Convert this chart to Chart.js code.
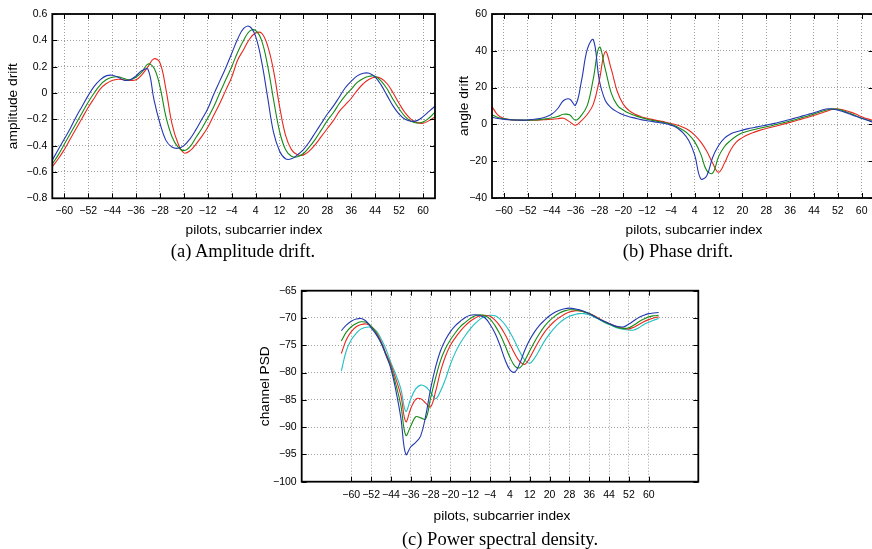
<!DOCTYPE html>
<html>
<head>
<meta charset="utf-8">
<script src="https://cdn.jsdelivr.net/npm/chart.js@4.4.1/dist/chart.umd.min.js"></script>
<style>
    html, body { margin: 0; padding: 0; background: #fff; overflow: hidden; }
    body { width: 872px; height: 549px; position: relative; }
    .box { position: absolute; }
    .txt { position: absolute; transform: translate(-50%, -50%); white-space: nowrap; color: #000; }
    .xtitle { font-family: "Liberation Sans", Arial, sans-serif; font-size: 13.7px; }
    .cap { font-family: "Liberation Serif", "Times New Roman", serif; font-size: 18.5px; }
</style>
</head>
<body>
<div class="box" style="left:0;top:0;width:440px;height:250px"><canvas id="ampChart" width="440" height="250"></canvas></div>
<div class="box" style="left:440px;top:0;width:440px;height:250px"><canvas id="phaseChart" width="440" height="250"></canvas></div>
<div class="box" style="left:240px;top:275px;width:470px;height:260px"><canvas id="psdChart" width="470" height="260"></canvas></div>

<div class="txt xtitle" style="left:254px;top:229px">pilots, subcarrier index</div>
<div class="txt xtitle" style="left:694px;top:229px">pilots, subcarrier index</div>
<div class="txt xtitle" style="left:502px;top:515px">pilots, subcarrier index</div>
<div class="txt cap" style="left:243px;top:251px">(a) Amplitude drift.</div>
<div class="txt cap" style="left:678px;top:251px">(b) Phase drift.</div>
<div class="txt cap" style="left:500px;top:539px">(c) Power spectral density.</div>

<script>
// Indices des sous-porteuses (pas de 2)
const pilotIdx = [
    -64, -62, -60, -58, -56, -54, -52, -50, -48, -46, -44, -42, -40, -38, -36, -34,
    -32, -30, -28, -26, -24, -22, -20, -18, -16, -14, -12, -10, -8, -6, -4, -2,
    0, 2, 4, 6, 8, 10, 12, 14, 16, 18, 20, 22, 24, 26, 28, 30,
    32, 34, 36, 38, 40, 42, 44, 46, 48, 50, 52, 54, 56, 58, 60, 62, 64
];

const xTicks = [-60, -52, -44, -36, -28, -20, -12, -4, 4, 12, 20, 28, 36, 44, 52, 60];
const ampTicks = [-0.8, -0.6, -0.4, -0.2, 0, 0.2, 0.4, 0.6];
const phaseTicks = [-40, -20, 0, 20, 40, 60];
const psdTicks = [-100, -95, -90, -85, -80, -75, -70, -65];

// (a) amplitude drift
const ampBlue = [
    -0.51, -0.43, -0.35, -0.27, -0.18, -0.10, -0.02, 0.05, 0.10, 0.13, 0.135, 0.12, 0.097, 0.10, 0.13, 0.17,
    0.18, -0.05, -0.23, -0.36, -0.41, -0.42, -0.40, -0.35, -0.28, -0.20, -0.12, -0.01, 0.09, 0.19, 0.30, 0.41,
    0.49, 0.505, 0.43, 0.24, -0.03, -0.30, -0.44, -0.50, -0.50, -0.47, -0.43, -0.37, -0.30, -0.23, -0.16, -0.10,
    -0.03, 0.04, 0.09, 0.13, 0.15, 0.15, 0.12, 0.06, -0.02, -0.10, -0.16, -0.20, -0.215, -0.21, -0.18, -0.14, -0.10
];
const ampGreen = [
    -0.54, -0.47, -0.39, -0.31, -0.23, -0.15, -0.07, 0.0, 0.06, 0.10, 0.12, 0.123, 0.11, 0.10, 0.12, 0.16,
    0.22, 0.19, 0.05, -0.18, -0.33, -0.41, -0.438, -0.41, -0.34, -0.27, -0.19, -0.105, 0.0, 0.10, 0.20, 0.31,
    0.40, 0.47, 0.475, 0.40, 0.21, -0.05, -0.29, -0.43, -0.48, -0.485, -0.46, -0.41, -0.35, -0.28, -0.21, -0.15,
    -0.08, -0.02, 0.03, 0.08, 0.11, 0.127, 0.128, 0.09, 0.03, -0.05, -0.12, -0.18, -0.215, -0.228, -0.22, -0.19, -0.145
];
const ampRed = [
    -0.56, -0.50, -0.43, -0.35, -0.27, -0.19, -0.11, -0.04, 0.03, 0.07, 0.095, 0.104, 0.10, 0.095, 0.10, 0.14,
    0.20, 0.26, 0.23, 0.03, -0.23, -0.38, -0.455, -0.44, -0.39, -0.33, -0.26, -0.17, -0.08, 0.02, 0.12, 0.25,
    0.33, 0.41, 0.455, 0.455, 0.36, 0.17, -0.10, -0.32, -0.43, -0.47, -0.47, -0.44, -0.39, -0.33, -0.27, -0.21,
    -0.14, -0.09, -0.04, 0.02, 0.07, 0.105, 0.12, 0.11, 0.07, 0.0, -0.08, -0.15, -0.20, -0.225, -0.23, -0.21, -0.18
];

// (b) angle drift
const phaseBlue = [
    3.9, 3.2, 2.8, 2.5, 2.4, 2.3, 2.4, 2.8, 3.2, 4.0, 5.5, 8.5, 13.0, 13.8, 10.5, 23.5,
    41, 46, 24, 13, 9, 6.8, 5.2, 4.2, 3.4, 2.6, 2.0, 1.5, 1.0, 0.5, -0.4, -1.8,
    -4.5, -8.8, -16.7, -29.5, -28, -18, -11.5, -7.5, -5.2, -4.0, -3.1, -2.3, -1.7, -1.0, -0.4, 0.3,
    1.0, 1.8, 2.7, 3.6, 4.5, 5.4, 6.3, 7.4, 8.4, 8.4, 7.8, 6.8, 5.6, 4.4, 3.3, 2.2, 1.1
];
const phaseGreen = [
    5.2, 3.8, 3.0, 2.6, 2.4, 2.3, 2.3, 2.4, 2.6, 3.0, 3.5, 4.3, 5.5, 5.2, 2.3, 5.0,
    10.5, 25, 42, 30, 17, 10.5, 7.8, 6.0, 4.8, 3.7, 2.8, 2.1, 1.5, 0.9, 0.1, -1.3,
    -3.0, -5.5, -9.5, -16, -25, -26.5, -17.5, -12, -8.8, -6.3, -4.6, -3.6, -2.8, -2.0, -1.3, -0.6,
    0.2, 1.0, 1.8, 2.7, 3.7, 4.6, 5.6, 6.7, 7.7, 8.4, 8.2, 7.3, 6.1, 4.7, 3.3, 2.3, 1.5
];
const phaseRed = [
    9.7, 5.0, 3.2, 2.6, 2.3, 2.2, 2.2, 2.3, 2.4, 2.6, 2.8, 3.1, 3.3, 1.5, -0.5, 2.0,
    5.5, 11, 24, 39.5, 30, 18, 11, 7.5, 5.5, 4.2, 3.3, 2.6, 1.9, 1.3, 0.5, -0.3,
    -1.5, -3.2, -5.8, -9.5, -14.5, -21, -26, -21, -14, -9.5, -7.2, -5.5, -4.2, -3.1, -2.2, -1.4,
    -0.6, 0.3, 1.1, 2.0, 3.0, 3.9, 4.9, 5.9, 7.0, 8.1, 8.4, 7.8, 6.8, 5.6, 4.2, 3.0, 2.0
];

// (c) channel PSD
const psdBlue = [
    -72.3, -71.3, -70.6, -70.2, -70.1, -70.6, -71.8, -73.0, -74.5, -76.8, -79.3, -83.3, -88.3, -95.0, -93.6, -92.8,
    -91.6, -88.0, -83.0, -79.0, -76.0, -74.0, -72.5, -71.4, -70.6, -69.9, -69.5, -69.4, -69.6, -70.0, -71.2, -72.8,
    -75.0, -77.6, -79.5, -79.9, -78.3, -75.9, -74.0, -72.5, -71.3, -70.4, -69.6, -69.0, -68.6, -68.3, -68.2, -68.3,
    -68.5, -68.8, -69.2, -69.7, -70.2, -70.6, -71.0, -71.4, -71.6, -71.6, -71.1, -70.5, -69.9, -69.5, -69.2, -69.1, -69.0
];
const psdGreen = [
    -74.2, -72.6, -71.6, -71.0, -70.7, -70.8, -71.5, -72.8, -74.6, -76.8, -79.0, -82.2, -86.0, -91.5, -89.8, -88.1,
    -88.3, -88.5, -84.7, -81.0, -77.8, -75.6, -74.0, -72.7, -71.6, -70.8, -70.1, -69.6, -69.4, -69.6, -70.2, -71.4,
    -73.0, -75.0, -77.2, -78.8, -79.1, -77.8, -76.0, -74.3, -72.8, -71.5, -70.5, -69.7, -69.1, -68.7, -68.5, -68.5,
    -68.6, -68.9, -69.2, -69.7, -70.2, -70.7, -71.1, -71.5, -71.8, -71.9, -71.8, -71.3, -70.7, -70.2, -69.8, -69.6, -69.5
];
const psdRed = [
    -76.5, -74.0, -72.5, -71.6, -71.2, -71.1, -71.5, -72.6, -74.3, -76.5, -78.6, -81.2, -84.2, -89.0, -86.6, -84.9,
    -84.8, -85.6, -86.3, -83.5, -79.8, -77.0, -75.0, -73.6, -72.4, -71.4, -70.6, -70.0, -69.6, -69.5, -69.7, -70.4,
    -71.5, -73.0, -74.8, -76.6, -78.0, -78.5, -77.3, -75.6, -74.0, -72.6, -71.5, -70.6, -69.9, -69.3, -68.9, -68.7,
    -68.7, -68.9, -69.2, -69.6, -70.1, -70.6, -71.0, -71.4, -71.7, -71.9, -72.0, -71.7, -71.2, -70.7, -70.3, -70.0, -69.8
];
const psdCyan = [
    -79.7, -76.0, -74.0, -72.8, -72.0, -71.7, -71.7, -72.3, -73.8, -75.7, -78.2, -80.4, -83.0, -87.1, -84.8, -83.0,
    -82.3, -82.6, -83.6, -84.8, -83.4, -81.2, -78.5, -76.3, -74.6, -73.2, -72.0, -71.0, -70.2, -69.7, -69.5, -69.6,
    -70.2, -71.2, -72.6, -74.3, -76.2, -77.7, -78.3, -77.3, -75.8, -74.2, -72.9, -71.8, -70.9, -70.2, -69.7, -69.4,
    -69.2, -69.2, -69.4, -69.8, -70.3, -70.8, -71.2, -71.6, -71.9, -72.1, -72.2, -72.2, -71.8, -71.2, -70.8, -70.4, -70.1
];

const BLUE = '#2338b0';
const GREEN = '#168a16';
const RED = '#e8281e';
const CYAN = '#22c0c0';

const FONT = '"Liberation Sans", Arial, sans-serif';

const minus = (s) => s.replace('-', '\u2212');

// Cadre et graduations tournées vers l'intérieur (style gnuplot)
const frameTicks = {
    id: 'frameTicks',
    afterDatasetsDraw(chart) {
        const { ctx, chartArea: a, scales: { x, y } } = chart;
        const len = 5;
        ctx.save();
        ctx.strokeStyle = '#000';
        ctx.lineWidth = 1;
        ctx.beginPath();
        x.ticks.forEach(t => {
            const px = Math.round(x.getPixelForValue(t.value)) + 0.5;
            ctx.moveTo(px, a.bottom); ctx.lineTo(px, a.bottom - len);
            ctx.moveTo(px, a.top); ctx.lineTo(px, a.top + len);
        });
        y.ticks.forEach(t => {
            const py = Math.round(y.getPixelForValue(t.value)) + 0.5;
            ctx.moveTo(a.left, py); ctx.lineTo(a.left + len, py);
            ctx.moveTo(a.right, py); ctx.lineTo(a.right - len, py);
        });
        ctx.stroke();
        ctx.lineWidth = 1.8;
        ctx.strokeRect(a.left, a.top, a.right - a.left, a.bottom - a.top);
        ctx.restore();
    }
};

const makeChart = (canvasId, series, xMin, xMax, yTicks, yFmt, yTitle, box) => {
    const ctx = document.getElementById(canvasId).getContext('2d');

    return new Chart(ctx, {
        type: 'line',
        data: {
            datasets: series.map(([values, color]) => ({
                data: pilotIdx.map((p, i) => ({ x: p, y: values[i] })),
                borderColor: color,
                borderWidth: 1.1,
                pointRadius: 0,
                fill: false,
                tension: 0.4
            }))
        },
        options: {
            responsive: false,
            animation: false,
            devicePixelRatio: 1,
            layout: { padding: { top: box.top, right: box.right, left: 0, bottom: 0 } },
            plugins: {
                legend: { display: false },
                tooltip: { enabled: false }
            },
            scales: {
                x: {
                    type: 'linear',
                    min: xMin,
                    max: xMax,
                    afterBuildTicks: sc => { sc.ticks = xTicks.map(v => ({ value: v })); },
                    afterFit: sc => { sc.height = box.xh; },
                    grid: { color: '#a0a0a0', lineWidth: 1, drawTicks: false },
                    border: { display: false, dash: [1, 2] },
                    ticks: {
                        autoSkip: false, maxRotation: 0, minRotation: 0,
                        padding: 7, color: '#000',
                        font: { family: FONT, size: 10.5 },
                        callback: v => minus(String(v))
                    }
                },
                y: {
                    type: 'linear',
                    min: yTicks[0],
                    max: yTicks[yTicks.length - 1],
                    afterBuildTicks: sc => { sc.ticks = yTicks.map(v => ({ value: v })); },
                    afterFit: sc => { sc.width = box.yw; },
                    grid: { color: '#a0a0a0', lineWidth: 1, drawTicks: false },
                    border: { display: false, dash: [1, 2] },
                    ticks: {
                        padding: 5, color: '#000',
                        font: { family: FONT, size: 10.5 },
                        callback: v => minus(yFmt(v))
                    },
                    title: {
                        display: true,
                        text: yTitle,
                        color: '#000',
                        font: { family: FONT, size: 13.7, lineHeight: 1.2 },
                        padding: { top: box.titlePad, bottom: 0 }
                    }
                }
            }
        },
        plugins: [frameTicks]
    });
};

makeChart('ampChart', [[ampBlue, BLUE], [ampGreen, GREEN], [ampRed, RED]],
    -64, 64, ampTicks, v => (v === 0 ? '0' : v.toFixed(1)), 'amplitude drift',
    { top: 14, right: 5, yw: 52.3, xh: 51.7, titlePad: 4.8 });

makeChart('phaseChart', [[phaseBlue, BLUE], [phaseGreen, GREEN], [phaseRed, RED]],
    -64, 64, phaseTicks, v => String(v), 'angle drift',
    { top: 14, right: 6.4, yw: 52, xh: 52, titlePad: 16.1 });

makeChart('psdChart', [[psdBlue, BLUE], [psdGreen, GREEN], [psdRed, RED], [psdCyan, CYAN]],
    -80, 80, psdTicks, v => String(v), 'channel PSD',
    { top: 15.7, right: 11.7, yw: 61.7, xh: 53.3, titlePad: 16.8 });
</script>
</body>
</html>
